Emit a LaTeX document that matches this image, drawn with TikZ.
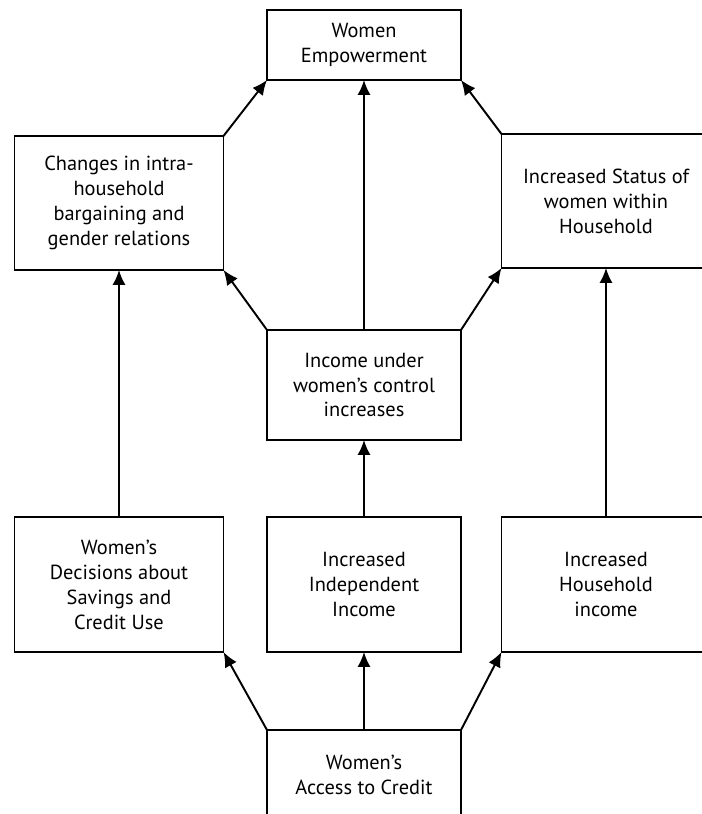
\documentclass[tikz,border=0pt]{standalone}
\usepackage{fontspec}
\setmainfont{PT Sans}
\usepackage{tikz}
\usetikzlibrary{arrows.meta,positioning}

\begin{document}
\begin{tikzpicture}[
    cbox/.style={draw, line width=1.1pt, outer sep=0pt, inner sep=2pt, align=center,
                 font=\fontsize{11.6}{14.2}\selectfont},
    narrow/.style={cbox, minimum width=3.88cm},
    wide/.style={cbox, minimum width=4.18cm},
    link/.style={-{Latex[length=8.5pt,width=7.5pt]}, line width=1.1pt},
]
\useasboundingbox (0,0) rectangle (14.04,-16.28);

\node[narrow, minimum height=1.4cm] (emp) at (7.28,-0.9) {Women\\Empowerment};
\node[wide, minimum height=2.68cm] (chg) at (2.38,-4.06) {Changes in intra-\\household\\bargaining and\\gender relations};
\node[wide, minimum height=2.68cm] (sts) at (12.12,-4.02) {Increased Status of\\women within\\Household};
\node[narrow, minimum height=2.2cm] (inc) at (7.28,-7.7) {Income under\\women’s control\\increases};

\node[wide, minimum height=2.7cm] (dec) at (2.38,-11.69) {Women’s\\Decisions about\\Savings and\\Credit Use};
\node[narrow, minimum height=2.7cm] (ind) at (7.28,-11.69) {Increased\\Independent\\Income};
\node[wide, minimum height=2.7cm] (hh) at (12.12,-11.69) {Increased\\Household\\income};
\node[narrow, minimum height=1.8cm] (acc) at (7.28,-15.5) {Women’s\\Access to Credit};

% from access to credit
\draw[link] (acc.north west) -- (dec.south east);
\draw[link] (acc.north) -- (ind.south);
\draw[link] (acc.north east) -- (hh.south west);

% middle layer
\draw[link] (dec.north) -- (chg.south);
\draw[link] (ind.north) -- (inc.south);
\draw[link] (hh.north) -- (sts.south);

\draw[link] (inc.north west) -- (chg.south east);
\draw[link] (inc.north) -- (emp.south);
\draw[link] (inc.north east) -- (sts.south west);

% to empowerment
\draw[link] (chg.north east) -- (emp.south west);
\draw[link] (sts.north west) -- (emp.south east);
\end{tikzpicture}
\end{document}
